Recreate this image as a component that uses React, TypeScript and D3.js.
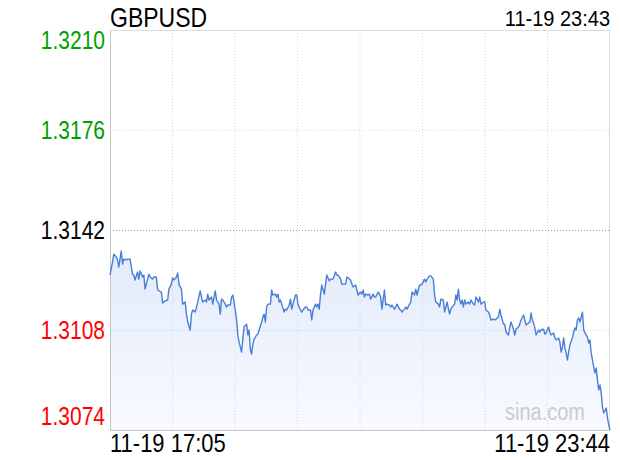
import React from "react";
import * as d3 from "d3";

const title = "GBPUSD";
const stamp = "11-19 23:43";
const startLabel = "11-19 17:05";
const endLabel = "11-19 23:44";
const watermark = "sina.com";
const prevClose = 1.3142;
const yTicks = [1.321, 1.3176, 1.3142, 1.3108, 1.3074];
const totalMinutes = 399;

// minute offsets from 17:05
const minutes = [
  0, 2, 3, 5, 6, 7, 9, 10, 11, 13, 14, 16, 18, 19, 20, 22, 23, 24, 26, 27, 28, 30, 31, 32, 34, 35, 37, 38, 41, 42, 44, 46, 47, 49, 50, 51, 53, 54, 55, 57, 58, 60, 61, 62, 64,
  65, 66, 68, 69, 70, 72, 73, 74, 76, 77, 78, 79, 81, 82, 84, 85, 87, 88, 89, 90, 92, 93, 94, 96, 97, 98, 99, 101, 102, 103, 105, 106, 107, 109, 110, 111, 112, 113, 114, 115, 117, 118, 119, 121, 122, 123, 124, 125, 126, 128, 129, 130, 132,
  133, 134, 135, 136, 137, 139, 140, 141, 143, 144, 145, 146, 148, 149, 150, 152, 153, 154, 156, 157, 158, 160, 161, 162, 164, 165, 166, 167, 168, 169, 171, 172, 173, 175, 176, 178, 180, 181, 182, 184, 185, 186, 188, 189, 190, 192, 193, 194, 196, 197, 198,
  200, 201, 202, 203, 204, 206, 207, 208, 210, 211, 212, 214, 215, 216, 217, 219, 220, 221, 223, 224, 225, 227, 228, 229, 231, 232, 233, 235, 236, 237, 239, 240, 241, 243, 244, 245, 247, 248, 249, 251, 252, 253, 255, 256, 258, 259, 260, 262, 263, 264, 266,
  267, 269, 271, 272, 273, 275, 276, 277, 278, 279, 280, 281, 282, 283, 284, 286, 287, 288, 290, 291, 292, 294, 295, 296, 298, 299, 300, 302, 303, 304, 306, 307, 308, 310, 311, 312, 314, 315, 316, 318, 319, 320, 322, 323, 324, 326, 327, 328, 330, 331, 332,
  334, 335, 336, 337, 338, 339, 340, 342, 343, 344, 346, 347, 348, 350, 351, 352, 354, 355, 356, 358, 359, 360, 361, 362, 363, 364, 365, 366, 367, 369, 370, 371, 372, 373, 374, 375, 376, 377, 378, 379, 381, 382, 383, 384, 385, 386, 387, 388, 389, 390, 391, 392, 393, 394, 396, 397, 398, 399,
];

const prices = [
  1.31267, 1.31311, 1.31338, 1.31328, 1.31318, 1.31294, 1.31349, 1.31304, 1.31321, 1.31318, 1.31321, 1.31321, 1.3127, 1.31267, 1.3125, 1.31277, 1.31253, 1.31281, 1.3126, 1.31267, 1.31219, 1.31253, 1.3127, 1.3126, 1.31253, 1.3126, 1.3126, 1.31216, 1.31209, 1.31172, 1.31179, 1.31182, 1.31219, 1.31236, 1.31257, 1.3125, 1.3126, 1.31274, 1.31236, 1.31219, 1.31168, 1.31175, 1.31134, 1.31107, 1.3108,
  1.31134, 1.31148, 1.31141, 1.31158, 1.31175, 1.31213, 1.31192, 1.31175, 1.31182, 1.31175, 1.31202, 1.31182, 1.31192, 1.31168, 1.31213, 1.31182, 1.31168, 1.31134, 1.31185, 1.31182, 1.31168, 1.31158, 1.31165, 1.31165, 1.31192, 1.31199, 1.31175, 1.31117, 1.31063, 1.31039, 1.31005, 1.31049, 1.3109, 1.311, 1.31063, 1.3108, 1.31015, 1.30998, 1.31032, 1.31049, 1.31063, 1.31066, 1.3108, 1.31107, 1.31124, 1.31134, 1.31107, 1.31158, 1.31168, 1.31168, 1.31216, 1.31199, 1.31202,
  1.31192, 1.31202, 1.31175, 1.31182, 1.31168, 1.31141, 1.31151, 1.31148, 1.31165, 1.31185, 1.31151, 1.31168, 1.31199, 1.31199, 1.31168, 1.31148, 1.31141, 1.31148, 1.31158, 1.31158, 1.31148, 1.31148, 1.31114, 1.31148, 1.31168, 1.31158, 1.31168, 1.31151, 1.31202, 1.31233, 1.31202, 1.31236, 1.31267, 1.31247, 1.31253, 1.31253, 1.31277, 1.31267, 1.31267, 1.31253, 1.31236, 1.31236, 1.31236, 1.3126, 1.31257, 1.3125, 1.31236, 1.31226, 1.31233, 1.31216, 1.31199,
  1.31209, 1.31202, 1.31216, 1.31192, 1.31202, 1.31199, 1.31202, 1.31185, 1.31202, 1.31192, 1.31192, 1.31209, 1.31202, 1.31192, 1.31151, 1.31216, 1.31165, 1.31168, 1.31165, 1.31158, 1.31165, 1.31151, 1.31158, 1.31168, 1.31151, 1.31148, 1.31141, 1.31151, 1.31158, 1.31151, 1.31168, 1.31175, 1.31209, 1.31199, 1.31219, 1.31199, 1.31233, 1.31233, 1.31236, 1.31253, 1.31243, 1.31253, 1.31264, 1.31264, 1.31253, 1.31199, 1.31175, 1.31168, 1.31158, 1.31185, 1.31182,
  1.31141, 1.31175, 1.31134, 1.31151, 1.31158, 1.31168, 1.31199, 1.31182, 1.31219, 1.31182, 1.31168, 1.31182, 1.31158, 1.31182, 1.31168, 1.31175, 1.31168, 1.31182, 1.31168, 1.31165, 1.31192, 1.31175, 1.31192, 1.31168, 1.31175, 1.31175, 1.31148, 1.31141, 1.31131, 1.31114, 1.31117, 1.31114, 1.31117, 1.31124, 1.31151, 1.31131, 1.311, 1.311, 1.31073, 1.31063, 1.3109, 1.31107, 1.31083, 1.31063, 1.31083, 1.3109, 1.311, 1.31114, 1.31131, 1.31114, 1.31097,
  1.31104, 1.31107, 1.31138, 1.31114, 1.31104, 1.31087, 1.31063, 1.3108, 1.31073, 1.3108, 1.31083, 1.31066, 1.3107, 1.3109, 1.31073, 1.31063, 1.3107, 1.31053, 1.31046, 1.31053, 1.31039, 1.31005, 1.31022, 1.31053, 1.31019, 1.31002, 1.30978, 1.31005, 1.31029, 1.31053, 1.31073, 1.31087, 1.3108, 1.31114, 1.31121, 1.31107, 1.31124, 1.31141, 1.3108, 1.3107, 1.31056, 1.31036, 1.31046, 1.31002, 1.30978, 1.30954, 1.30934, 1.30951, 1.3091, 1.30876, 1.30893, 1.30866, 1.30818, 1.30798, 1.30815, 1.30781, 1.30757, 1.3074,
];

const FONT = "'Liberation Sans', Arial, Helvetica, sans-serif";

export default function App() {
  const W = 620;
  const H = 460;
  const left = 110;
  const right = 610;
  const top = 30;
  const bottom = 430;

  const x = d3.scaleLinear().domain([0, totalMinutes]).range([left, right]);
  const y = d3
    .scaleLinear()
    .domain([d3.min(yTicks) as number, d3.max(yTicks) as number])
    .range([bottom, top]);

  const n = Math.min(minutes.length, prices.length);
  const data = d3.range(n).map((i) => ({ t: minutes[i], p: prices[i] }));

  const line = d3
    .line<{ t: number; p: number }>()
    .x((d) => x(d.t))
    .y((d) => y(d.p));
  const area = d3
    .area<{ t: number; p: number }>()
    .x((d) => x(d.t))
    .y0(bottom)
    .y1((d) => y(d.p));

  const vGrid = d3.range(1, 8).map((i) => left + ((right - left) * i) / 8);

  const tickColor = (v: number) =>
    Math.abs(v - prevClose) < 1e-9 ? "#000" : v > prevClose ? "#009f00" : "#f00";
  const tickOffset = (i: number) =>
    i === 0 ? 19 : i === yTicks.length - 1 ? -5 : 9;

  const yTop = y(d3.max(prices) as number);

  return (
    <svg
      width={W}
      height={H}
      style={{ position: "fixed", left: 0, top: 0, background: "#fff" }}
      fontFamily={FONT}
    >
      <defs>
        <linearGradient id="fillGrad" gradientUnits="userSpaceOnUse" x1="0" y1={yTop} x2="0" y2={bottom}>
          <stop offset="0" stopColor="#e2ebfb" />
          <stop offset="1" stopColor="#f8faff" />
        </linearGradient>
      </defs>
      <rect x={0} y={0} width={W} height={H} fill="#fff" />

      {/* area */}
      <path d={area(data) || ""} fill="url(#fillGrad)" />

      {/* grid */}
      {vGrid.map((gx, i) => (
        <line key={"v" + i} x1={gx} x2={gx} y1={top} y2={bottom} stroke="#d6d6d6" strokeWidth={1} strokeDasharray="1,2" />
      ))}
      {yTicks.slice(1, -1).map((v, i) => (
        <line
          key={"h" + i}
          x1={left}
          x2={right}
          y1={Math.round(y(v)) + 0.5}
          y2={Math.round(y(v)) + 0.5}
          stroke={Math.abs(v - prevClose) < 1e-9 ? "#9a9a9a" : "#d6d6d6"}
          strokeWidth={1}
          strokeDasharray="1,2"
        />
      ))}

      {/* frame */}
      <line x1={left} x2={right} y1={top + 0.5} y2={top + 0.5} stroke="#dcdcdc" />
      <line x1={right - 0.5} x2={right - 0.5} y1={top} y2={bottom} stroke="#dcdcdc" />
      <line x1={left + 0.5} x2={left + 0.5} y1={top} y2={bottom} stroke="#c4c4c4" />
      <line x1={left} x2={right} y1={bottom + 0.5} y2={bottom + 0.5} stroke="#c8c8c8" />

      {/* watermark */}
      <text
        transform={`translate(585,420) scale(1,1.15)`}
        textAnchor="end"
        fontSize={20}
        fill="#cccccc"
      >
        {watermark}
      </text>

      {/* price line */}
      <path d={line(data) || ""} fill="none" stroke="#4a7ed6" strokeWidth={1.4} strokeLinejoin="round" />

      {/* y labels */}
      {yTicks.map((v, i) => (
        <text
          key={"yl" + i}
          transform={`translate(105,${y(v) + tickOffset(i)}) scale(1,1.2)`}
          textAnchor="end"
          fontSize={21}
          fill={tickColor(v)}
        >
          {v.toFixed(4)}
        </text>
      ))}

      {/* title & stamp */}
      <text transform="translate(110,27) scale(1,1.2)" fontSize={23} fill="#000">
        {title}
      </text>
      <text transform="translate(610,26) scale(1,1.1)" textAnchor="end" fontSize={20} fill="#000">
        {stamp}
      </text>

      {/* x labels */}
      <text transform={`translate(${x(0)},452) scale(1,1.2)`} fontSize={22} fill="#000">
        {startLabel}
      </text>
      <text transform={`translate(${x(totalMinutes)},452) scale(1,1.2)`} textAnchor="end" fontSize={22} fill="#000">
        {endLabel}
      </text>
    </svg>
  );
}
